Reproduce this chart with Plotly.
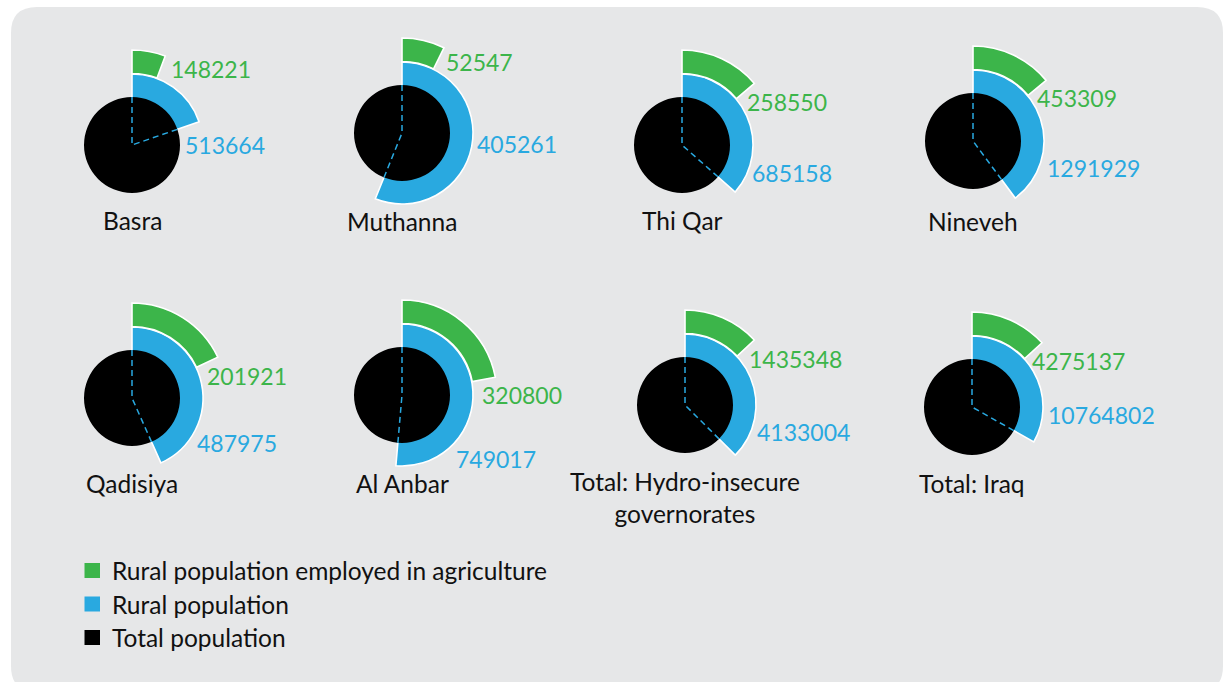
import plotly.graph_objects as go

# ---- data -------------------------------------------------------------
regions = ["Basra", "Muthanna", "Thi Qar", "Nineveh", "Qadisiya", "Al Anbar",
           "Total: Hydro-insecure<br>governorates", "Total: Iraq"]
total_population = [2605000, 722000, 1876000, 3241000, 1126000, 1458000,
                    11028000, 32430000]
rural_population = [513664, 405261, 685158, 1291929, 487975, 749017,
                    4133004, 10764802]
rural_agriculture = [148221, 52547, 258550, 453309, 201921, 320800,
                     1435348, 4275137]
legend_labels = ["Rural population employed in agriculture",
                 "Rural population", "Total population"]

# ---- styling / layout ---------------------------------------------------
W, H = 1225, 682
GREEN, BLUE, BLACK = "#3cb54a", "#29a9e0", "#000000"
BG = "#e6e7e8"
FONT = "Lato"
FS_VALUE = 23
FS_TEXT = 24.5

R_BLACK = 48       # radius of total-population disc (px)
R_BLUE = 71        # outer radius of rural-population sector
R_GREEN_IN = 71.5  # inner / outer radius of agriculture ring
R_GREEN_OUT = 95
HALF = 100         # half-size of each polar domain in px

centers = [(132, 145), (402, 133), (682, 145), (973, 141),
           (132, 398), (402, 395), (685, 405), (972, 407)]
green_label_pos = [(171.7, 69.3), (446.7, 61.7), (748.3, 102), (1038.3, 97.7),
                   (207.7, 376), (482.7, 395), (750, 359), (1033.3, 361)]
blue_label_pos = [(186, 145.3), (478.3, 144.3), (753.3, 173.3), (1048.3, 167.7),
                  (198.3, 443.3), (457.3, 459), (758.3, 432.3), (1049, 415)]
name_y = [221, 222, 221, 221.5, 483, 483, 497.5, 483]
LABEL_PAD = 3      # annotation box padding to the left of the glyphs


def fx(x):
    return x / W


def fy(y):
    return 1 - y / H


fig = go.Figure()
annotations = []
layout_polars = {}

for i, region in enumerate(regions):
    sub = "polar" if i == 0 else f"polar{i + 1}"
    cx, cy = centers[i]
    rural_deg = rural_population[i] / total_population[i] * 360
    agri_deg = rural_agriculture[i] / total_population[i] * 360

    # rural population sector
    fig.add_trace(go.Barpolar(
        r=[R_BLUE], base=0, theta=[rural_deg / 2], width=[rural_deg],
        marker=dict(color=BLUE, line=dict(color="white", width=1.6)),
        subplot=sub, showlegend=False, hoverinfo="skip"))
    # total population disc
    fig.add_trace(go.Barpolar(
        r=[R_BLACK], base=0, theta=[180], width=[360],
        marker=dict(color=BLACK, line=dict(color=BLACK, width=0)),
        subplot=sub, showlegend=False, hoverinfo="skip"))
    # dashed edges of the rural share inside the disc
    fig.add_trace(go.Scatterpolar(
        r=[R_BLACK, 0, R_BLACK], theta=[0, 0, rural_deg], mode="lines",
        line=dict(color=BLUE, width=1.5, dash="6px,4px"),
        subplot=sub, showlegend=False, hoverinfo="skip"))
    # agriculture ring segment
    fig.add_trace(go.Barpolar(
        r=[R_GREEN_OUT - R_GREEN_IN], base=R_GREEN_IN,
        theta=[agri_deg / 2], width=[agri_deg],
        marker=dict(color=GREEN, line=dict(color="white", width=1.6)),
        subplot=sub, showlegend=False, hoverinfo="skip"))

    layout_polars[sub] = dict(
        domain=dict(x=[fx(cx - HALF), fx(cx + HALF)],
                    y=[fy(cy + HALF), fy(cy - HALF)]),
        bgcolor="rgba(0,0,0,0)",
        barmode="overlay",
        radialaxis=dict(range=[0, HALF], visible=False),
        angularaxis=dict(rotation=90, direction="clockwise", visible=False),
    )

    gx, gy = green_label_pos[i]
    bx, by = blue_label_pos[i]
    annotations += [
        dict(x=fx(gx - LABEL_PAD), y=fy(gy), text=str(rural_agriculture[i]),
             font=dict(color=GREEN, size=FS_VALUE, family=FONT)),
        dict(x=fx(bx - LABEL_PAD), y=fy(by), text=str(rural_population[i]),
             font=dict(color=BLUE, size=FS_VALUE, family=FONT)),
        dict(x=fx(cx), y=fy(name_y[i]), text=region, xanchor="center",
             font=dict(color="#111111", size=FS_TEXT, family=FONT)),
    ]

# rounded panel background, built in pixel space then scaled to paper
x0, y0, x1, y1, rr = 11, 7, 1223, 692, 26
panel_path = (
    f"M {fx(x0 + rr)},{fy(y0)} L {fx(x1 - rr)},{fy(y0)} "
    f"Q {fx(x1)},{fy(y0)} {fx(x1)},{fy(y0 + rr)} "
    f"L {fx(x1)},{fy(y1 - rr)} Q {fx(x1)},{fy(y1)} {fx(x1 - rr)},{fy(y1)} "
    f"L {fx(x0 + rr)},{fy(y1)} Q {fx(x0)},{fy(y1)} {fx(x0)},{fy(y1 - rr)} "
    f"L {fx(x0)},{fy(y0 + rr)} Q {fx(x0)},{fy(y0)} {fx(x0 + rr)},{fy(y0)} Z")
shapes = [dict(type="path", xref="paper", yref="paper", layer="below",
               path=panel_path, fillcolor=BG, line=dict(width=0))]

# legend drawn as swatches + labels
legend_rows_y = [570.5, 604, 637.5]
for label, color, ly in zip(legend_labels, [GREEN, BLUE, BLACK], legend_rows_y):
    shapes.append(dict(type="rect", xref="paper", yref="paper",
                       x0=fx(84.5), x1=fx(100), y0=fy(ly - 7.5), y1=fy(ly + 7.5),
                       fillcolor=color, line=dict(width=0)))
    annotations.append(dict(x=fx(109.5), y=fy(ly), text=label, xanchor="left",
                            font=dict(color="#111111", size=FS_TEXT, family=FONT)))

for a in annotations:
    a.setdefault("xanchor", "left")
    a.update(xref="paper", yref="paper", yanchor="middle", showarrow=False)

fig.update_layout(
    width=W, height=H,
    margin=dict(l=0, r=0, t=0, b=0),
    paper_bgcolor="white",
    plot_bgcolor="white",
    shapes=shapes,
    annotations=annotations,
    showlegend=False,
    **layout_polars,
)

fig.write_html("out.html")
